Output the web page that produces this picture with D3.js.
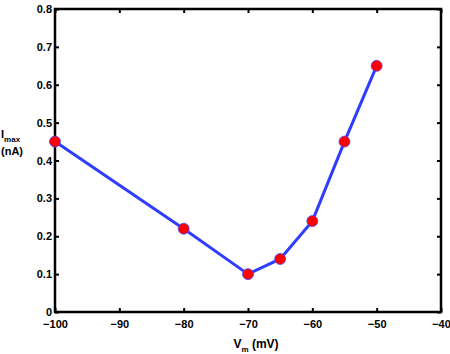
<!DOCTYPE html>
<html>
<head>
<meta charset="utf-8">
<script src="https://cdn.jsdelivr.net/npm/d3@7"></script>
<style>
body { margin:0; background:#fff; }
text { font-family: "Liberation Sans", Arial, sans-serif; font-weight:bold; font-size:11px; }
</style>
</head>
<body>
<svg id="graph"></svg>
<script>
// membrane potential (mV) and peak current (nA)
var vm = [-100, -80, -70, -65, -60, -55, -50]
var imax = [0.45, 0.22, 0.10, 0.14, 0.24, 0.45, 0.65]
var xTicks = [-100, -90, -80, -70, -60, -50, -40]
var yTicks = [0, 0.1, 0.2, 0.3, 0.4, 0.5, 0.6, 0.7, 0.8]

var screen = {width:450, height:354}
var plot = {left:55, right:441, top:9, bottom:312}

var svg = d3.select("#graph")
    .attr("width", screen.width)
    .attr("height", screen.height)

var xscale = d3.scaleLinear()
    .domain([-100, -40])
    .range([plot.left, plot.right])

var yscale = d3.scaleLinear()
    .domain([0, 0.8])
    .range([plot.bottom, plot.top])

var fmtX = function(d) { return d < 0 ? "\u2212" + Math.abs(d) : d }
var fmtY = function(d) { return d === 0 ? "0" : d3.format(".1f")(d) }

// bottom / left axes with labels, ticks pointing inward
svg.append("g")
    .attr("transform", "translate(0," + plot.bottom + ")")
    .call(d3.axisBottom(xscale).tickValues(xTicks).tickFormat(fmtX).tickSize(-4).tickPadding(8))
svg.append("g")
    .attr("transform", "translate(" + plot.left + ",0)")
    .call(d3.axisLeft(yscale).tickValues(yTicks).tickFormat(fmtY).tickSize(-4).tickPadding(3))
// top / right ticks only
svg.append("g")
    .attr("transform", "translate(0," + plot.top + ")")
    .call(d3.axisTop(xscale).tickValues(xTicks).tickFormat("").tickSize(-4))
svg.append("g")
    .attr("transform", "translate(" + plot.right + ",0)")
    .call(d3.axisRight(yscale).tickValues(yTicks).tickFormat("").tickSize(-4))

svg.selectAll(".domain").remove()
svg.selectAll(".tick line").attr("stroke", "#000").attr("stroke-width", 2)
svg.selectAll(".tick text").attr("fill", "#000")

svg.append("rect")
    .attr("x", plot.left)
    .attr("y", plot.top)
    .attr("width", plot.right - plot.left)
    .attr("height", plot.bottom - plot.top)
    .attr("fill", "none")
    .attr("stroke", "#000")
    .attr("stroke-width", 2.5)

var pts = vm.map(function(v, i) { return {x:v, y:imax[i]} })

svg.append("path")
    .datum(pts)
    .attr("fill", "none")
    .attr("stroke", "#2f3dff")
    .attr("stroke-width", 3)
    .attr("d", d3.line().x(function(d) { return xscale(d.x) }).y(function(d) { return yscale(d.y) }))

svg.selectAll("circle")
    .data(pts)
    .enter()
    .append("circle")
    .attr("cx", function(d) { return xscale(d.x) })
    .attr("cy", function(d) { return yscale(d.y) })
    .attr("r", 5.5)
    .attr("fill", "#ff0000")
    .attr("stroke", "#4a4aff")
    .attr("stroke-width", 0.8)

// axis titles
var xl = svg.append("text")
    .attr("x", 256)
    .attr("y", 348)
    .attr("text-anchor", "middle")
    .style("font-size", "12px")
xl.append("tspan").text("V")
xl.append("tspan").attr("dy", 4).attr("font-size", "8px").text("m")
xl.append("tspan").attr("dy", -4).text(" (mV)")

var yl = svg.append("text")
    .attr("x", 1)
    .attr("y", 138)
yl.append("tspan").text("I")
yl.append("tspan").attr("dy", 4).attr("font-size", "8px").text("max")
svg.append("text")
    .attr("x", 1)
    .attr("y", 155)
    .text("(nA)")
</script>
</body>
</html>
